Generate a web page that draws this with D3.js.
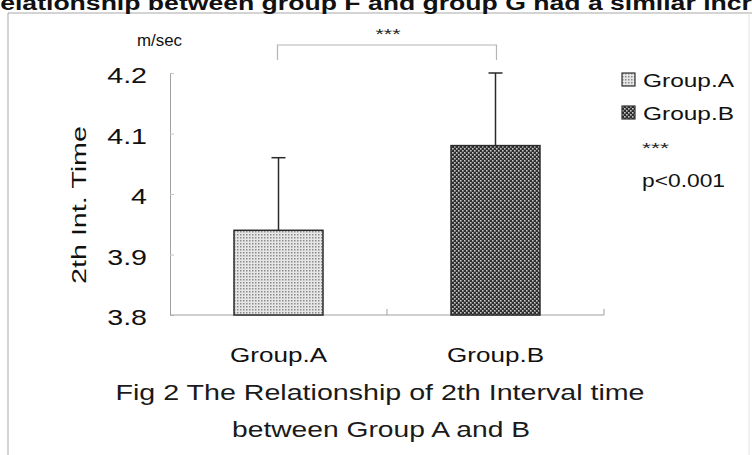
<!DOCTYPE html>
<html>
<head>
<meta charset="utf-8">
<script src="https://cdn.jsdelivr.net/npm/d3@7/dist/d3.min.js"></script>
<style>
  body { margin: 0; background: #fff; }
  svg { display: block; font-family: "Liberation Sans", Arial, sans-serif; }
</style>
</head>
<body>
<svg class="chart" width="752" height="455"></svg>
<script>
// data
const groups = ["Group.A", "Group.B"];
const means = [3.94, 4.08];
const errors = [0.12, 0.12];
const yTicks = [3.8, 3.9, 4.0, 4.1, 4.2];
const legendNotes = ["***", "p<0.001"];

var svg = d3.select(".chart");
var width = 752;
var height = 455;

// the scan is stretched sideways, so every text gets widened a bit
function stretch(sel, k) {
  sel.each(function () {
    var w = this.getComputedTextLength();
    d3.select(this).attr("textLength", w * k).attr("lengthAdjust", "spacingAndGlyphs");
  });
}

var defs = svg.append("defs");

var patA = defs.append("pattern")
  .attr("id", "dotsA")
  .attr("patternUnits", "userSpaceOnUse")
  .attr("width", 3).attr("height", 3);
patA.append("rect").attr("width", 3).attr("height", 3).attr("fill", "#e6e6e6");
patA.append("rect").attr("width", 1.5).attr("height", 1.5).attr("fill", "#8c8c8c");

var patB = defs.append("pattern")
  .attr("id", "dotsB")
  .attr("patternUnits", "userSpaceOnUse")
  .attr("width", 4).attr("height", 4);
patB.append("rect").attr("width", 4).attr("height", 4).attr("fill", "#2e2e2e");
patB.append("rect").attr("width", 1.6).attr("height", 1.6).attr("fill", "#c8c8c8");
patB.append("rect").attr("x", 2).attr("y", 2).attr("width", 1.6).attr("height", 1.6).attr("fill", "#c8c8c8");

var fills = ["url(#dotsA)", "url(#dotsB)"];

// page frame from the scan
var frame = svg.append("g").attr("stroke", "#a8a8a8").attr("fill", "none");
frame.append("line").attr("x1", 8).attr("y1", 13).attr("x2", 8).attr("y2", height);
frame.append("line").attr("x1", 8).attr("y1", 13).attr("x2", width).attr("y2", 13);
frame.append("line").attr("x1", 749).attr("y1", 13).attr("x2", 749).attr("y2", height).attr("stroke", "#e2e2e2");

// cut-off heading of the page above
svg.append("text")
  .attr("x", -19)
  .attr("y", 10)
  .attr("font-size", 20)
  .attr("font-weight", "bold")
  .attr("fill", "#111")
  .attr("textLength", 830)
  .attr("lengthAdjust", "spacingAndGlyphs")
  .text("Relationship between group F and group G had a similar increase");

var x = d3.scaleBand()
  .domain(groups)
  .range([170, 604])
  .paddingInner(0.59)
  .paddingOuter(0.295);

var y = d3.scaleLinear()
  .domain([3.8, 4.2])
  .range([315, 73]);

// y axis
var yAxis = svg.append("g")
  .attr("transform", "translate(170,0)")
  .call(
    d3.axisLeft(y)
      .tickValues(yTicks)
      .tickFormat(d => String(d))
      .tickSizeInner(-4)
      .tickSizeOuter(0)
      .tickPadding(23)
  );
yAxis.select(".domain").attr("stroke", "#a0a0a0");
yAxis.selectAll(".tick line").attr("stroke", "#c4c4c4");
yAxis.selectAll(".tick text")
  .attr("font-size", 22)
  .attr("fill", "#111")
  .attr("dy", "0.45em")
  .call(stretch, 1.3);

svg.append("text")
  .attr("x", 137)
  .attr("y", 46)
  .attr("font-size", 17)
  .attr("fill", "#111")
  .attr("textLength", 45)
  .attr("lengthAdjust", "spacingAndGlyphs")
  .text("m/sec");

svg.append("text")
  .attr("transform", "translate(86,205) rotate(-90)")
  .attr("text-anchor", "middle")
  .attr("font-size", 21)
  .attr("fill", "#111")
  .attr("textLength", 158)
  .attr("lengthAdjust", "spacingAndGlyphs")
  .text("2th Int. Time");

// x axis: plain line with ticks on the band edges
var xAxis = svg.append("g").attr("stroke", "#a0a0a0");
xAxis.append("line")
  .attr("x1", x.range()[0]).attr("x2", x.range()[1])
  .attr("y1", y(3.8)).attr("y2", y(3.8));
xAxis.selectAll(".edge")
  .data(groups)
  .enter()
  .append("line")
  .attr("class", "edge")
  .attr("x1", d => x(d) + x.bandwidth() + x.step() * x.paddingInner() / 2)
  .attr("x2", d => x(d) + x.bandwidth() + x.step() * x.paddingInner() / 2)
  .attr("y1", y(3.8))
  .attr("y2", y(3.8) - 6);

var xLabels = svg.append("g")
  .attr("transform", "translate(0," + y(3.8) + ")")
  .call(d3.axisBottom(x).tickSize(0).tickPadding(40));
xLabels.select(".domain").remove();
xLabels.selectAll(".tick text")
  .attr("font-size", 21)
  .attr("fill", "#111")
  .attr("dy", "0.35em")
  .call(stretch, 1.24);

// bars
svg.append("g")
  .selectAll("rect")
  .data(groups)
  .enter()
  .append("rect")
  .attr("x", d => x(d))
  .attr("y", (d, i) => y(means[i]))
  .attr("width", x.bandwidth())
  .attr("height", (d, i) => y(3.8) - y(means[i]))
  .attr("fill", (d, i) => fills[i])
  .attr("stroke", "#2a2a2a")
  .attr("stroke-width", 1.5);

// error bars (upper only)
var err = svg.append("g").attr("stroke", "#2a2a2a").attr("stroke-width", 1.5);
groups.forEach((g, i) => {
  var cx = x(g) + x.bandwidth() / 2;
  err.append("line")
    .attr("x1", cx).attr("x2", cx)
    .attr("y1", y(means[i])).attr("y2", y(means[i] + errors[i]));
  err.append("line")
    .attr("x1", cx - 7).attr("x2", cx + 7)
    .attr("y1", y(means[i] + errors[i])).attr("y2", y(means[i] + errors[i]));
});

// significance bracket
var xa = x(groups[0]) + x.bandwidth() / 2 - 1;
var xb = x(groups[1]) + x.bandwidth() / 2 + 1;
var yb = y(4.2) - 28;
svg.append("path")
  .attr("d", "M" + xa + "," + (yb + 15) + "V" + yb + "H" + xb + "V" + (yb + 15))
  .attr("fill", "none")
  .attr("stroke", "#b4b4b4")
  .attr("stroke-width", 1.2);
svg.append("text")
  .attr("x", (xa + xb) / 2 + 1)
  .attr("y", yb - 6)
  .attr("text-anchor", "middle")
  .attr("font-size", 15)
  .attr("fill", "#222")
  .attr("textLength", 25)
  .attr("lengthAdjust", "spacingAndGlyphs")
  .text("***");

// legend
var legend = svg.append("g").attr("transform", "translate(622,73)");
var item = legend.selectAll("g")
  .data(groups)
  .enter()
  .append("g")
  .attr("transform", (d, i) => "translate(0," + i * 33 + ")");
item.append("rect")
  .attr("width", 13).attr("height", 13)
  .attr("fill", (d, i) => fills[i])
  .attr("stroke", "#333")
  .attr("stroke-width", 1.2);
item.append("text")
  .attr("x", 21)
  .attr("y", 14)
  .attr("font-size", 19)
  .attr("fill", "#111")
  .attr("textLength", 91)
  .attr("lengthAdjust", "spacingAndGlyphs")
  .text(d => d);

legend.append("text")
  .attr("x", 20).attr("y", 80)
  .attr("font-size", 14)
  .attr("fill", "#222")
  .attr("textLength", 27)
  .attr("lengthAdjust", "spacingAndGlyphs")
  .text(legendNotes[0]);
legend.append("text")
  .attr("x", 20).attr("y", 114)
  .attr("font-size", 19)
  .attr("fill", "#111")
  .attr("textLength", 83)
  .attr("lengthAdjust", "spacingAndGlyphs")
  .text(legendNotes[1]);

// caption
var caption = svg.append("g").attr("text-anchor", "middle").attr("fill", "#1a1a1a").attr("font-size", 22);
caption.append("text")
  .attr("x", 380).attr("y", 400)
  .attr("textLength", 529)
  .attr("lengthAdjust", "spacingAndGlyphs")
  .text("Fig 2 The Relationship of 2th Interval time");
caption.append("text")
  .attr("x", 381).attr("y", 437)
  .attr("textLength", 298)
  .attr("lengthAdjust", "spacingAndGlyphs")
  .text("between Group A and B");
</script>
</body>
</html>
